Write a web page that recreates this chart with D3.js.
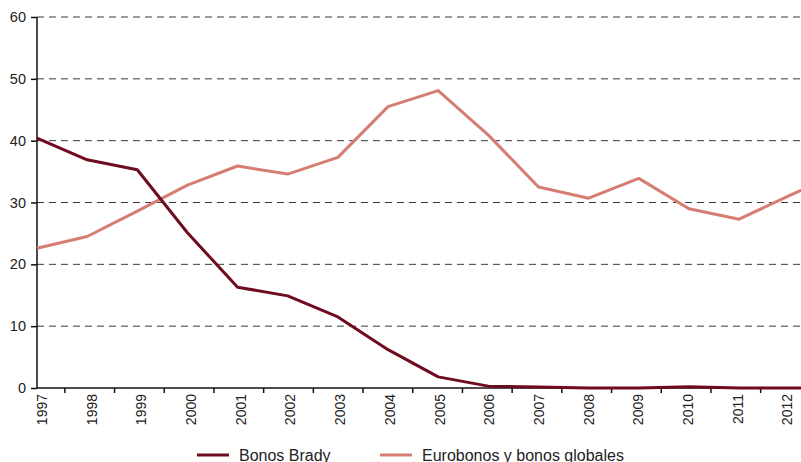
<!DOCTYPE html>
<html>
<head>
<meta charset="utf-8">
<script src="https://cdn.jsdelivr.net/npm/d3@7"></script>
<style>
  body { margin: 0; background: #fff; }
  svg { display: block; font-family: "Liberation Sans", Arial, sans-serif; }
</style>
</head>
<body>
<div id="chart"></div>
<script>
// years shown on the axis (the chart is cropped on the right, so 2013 sits just past the edge)
const years = ["1997","1998","1999","2000","2001","2002","2003","2004","2005","2006","2007","2008","2009","2010","2011","2012","2013"];
const bradyValues = [40.4, 36.9, 35.3, 25.1, 16.3, 14.9, 11.5, 6.2, 1.8, 0.3, 0.15, 0, 0, 0.2, 0, 0, 0];
const euroValues = [22.6, 24.5, 28.6, 32.8, 35.9, 34.6, 37.3, 45.5, 48.1, 40.9, 32.5, 30.7, 33.9, 29.0, 27.3, 31.1, 34.8];
const yTicks = [0, 10, 20, 30, 40, 50, 60];
const seriesNames = ["Bonos Brady", "Eurobonos y bonos globales"];
const seriesColors = ["#6e0b1f", "#d67d72"];

const width = 801, height = 462;
const plotLeft = 37, plotTop = 17, plotBottom = 388, step = 50.15;

const svg = d3.select("#chart").append("svg")
  .attr("width", width)
  .attr("height", height);

const x = d3.scalePoint().domain(years).range([plotLeft, plotLeft + step * (years.length - 1)]);
// the axis labels in the original sit on a slightly tighter spacing than the data points
const labelX = d3.scalePoint().domain(years).range([42, 42 + 49.7 * (years.length - 1)]);
const y = d3.scaleLinear().domain([0, 60]).range([plotBottom, plotTop]);

// dashed grid lines
svg.append("g").selectAll("line")
  .data(yTicks.filter(d => d > 0))
  .enter().append("line")
  .attr("x1", plotLeft).attr("x2", width)
  .attr("y1", d => y(d)).attr("y2", d => y(d))
  .attr("stroke", "#3a3a3a")
  .attr("stroke-width", 1)
  .attr("stroke-dasharray", "7,5");

// y axis
const yAxis = svg.append("g")
  .attr("transform", `translate(${plotLeft},0)`)
  .call(d3.axisLeft(y).tickValues(yTicks).tickSize(6).tickPadding(5));
yAxis.select(".domain").remove();
yAxis.selectAll(".tick line").attr("stroke", "#111").attr("stroke-width", 1.5);
yAxis.selectAll("text").attr("font-size", 14.5).attr("fill", "#222")
  .attr("font-family", "Liberation Sans, Arial, sans-serif");
svg.append("line")
  .attr("x1", plotLeft).attr("x2", plotLeft)
  .attr("y1", y(60)).attr("y2", plotBottom)
  .attr("stroke", "#111").attr("stroke-width", 1.5);

// x axis line, ticks between years and rotated labels
svg.append("line")
  .attr("x1", plotLeft).attr("x2", width)
  .attr("y1", plotBottom).attr("y2", plotBottom)
  .attr("stroke", "#111").attr("stroke-width", 1.5);

svg.append("g").selectAll("line")
  .data(years.slice(1))
  .enter().append("line")
  .attr("x1", d => labelX(d) - 49.7 / 2 - 2).attr("x2", d => labelX(d) - 49.7 / 2 - 2)
  .attr("y1", plotBottom).attr("y2", plotBottom + 5)
  .attr("stroke", "#111").attr("stroke-width", 1.5);

// only the labels that fall inside the visible area
svg.append("g").selectAll("text")
  .data(years.filter(d => labelX(d) + 8 < width))
  .enter().append("text")
  .attr("transform", d => `translate(${labelX(d)},${plotBottom + 6}) rotate(-90)`)
  .attr("dy", "0.35em")
  .attr("text-anchor", "end")
  .attr("font-size", 14)
  .attr("fill", "#222")
  .text(d => d);

// lines
const line = d3.line()
  .x((d, i) => x(years[i]))
  .y(d => y(d));

[euroValues, bradyValues].forEach((vals, k) => {
  svg.append("path")
    .datum(vals)
    .attr("fill", "none")
    .attr("stroke", k === 0 ? seriesColors[1] : seriesColors[0])
    .attr("stroke-width", 3)
    .attr("stroke-linejoin", "round")
    .attr("d", line);
});

// legend
const legendX = [197, 380];
seriesNames.forEach((name, i) => {
  const g = svg.append("g").attr("transform", `translate(${legendX[i]},455)`);
  g.append("line")
    .attr("x1", 0).attr("x2", 32)
    .attr("stroke", seriesColors[i])
    .attr("stroke-width", 3);
  g.append("text")
    .attr("x", 42).attr("y", 5.5)
    .attr("font-size", 16)
    .attr("fill", "#222")
    .text(name);
});
</script>
</body>
</html>
